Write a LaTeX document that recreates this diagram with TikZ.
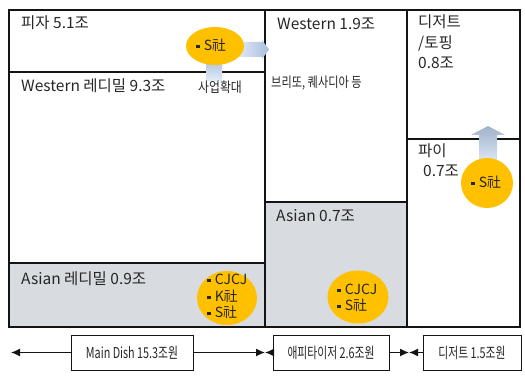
\documentclass[tikz,border=0pt]{standalone}
\usepackage{fontspec}
\setmainfont{Noto Sans CJK KR}
\usetikzlibrary{arrows.meta,shapes.geometric}
\definecolor{gfill}{RGB}{216,219,223}
\definecolor{orng}{RGB}{255,192,0}
\definecolor{ablA}{RGB}{168,190,222}
\definecolor{ablB}{RGB}{228,236,249}
\definecolor{lnc}{RGB}{20,20,20}
\newcommand{\bsq}{\rule[0.2em]{3.6pt}{3.6pt}\hspace{4pt}}
\tikzset{
  lbl/.style={anchor=base west, inner sep=0, font=\fontsize{15.5}{18}\selectfont, text=black!85},
  cond/.style={anchor=base west, inner sep=0, font=\fontsize{14}{16}\selectfont, text=black!85},
  blob/.style={ellipse, fill=orng, draw=none, inner sep=0},
  tag/.style={draw=lnc, line width=0.7pt, fill=white, inner sep=0, minimum height=35pt, font=\fontsize{15}{17}\selectfont, text=black!85},
  arr/.style={draw=lnc, line width=1.4pt, -{Latex[length=9pt,width=8pt]}},
  grid/.style={draw=lnc, line width=1.3pt}
}
\begin{document}
\begin{tikzpicture}[x=1pt,y=-1pt]
\useasboundingbox (0,0) rectangle (525,379);
% grey areas
\fill[gfill] (9,263) rectangle (265,327);
\fill[gfill] (265,202) rectangle (407,327);
% grid
\draw[grid] (9,10) rectangle (520,327);
\draw[grid] (265,10) -- (265,327);
\draw[grid] (407,10) -- (407,327);
\draw[grid] (9,72) -- (265,72);
\draw[grid] (9,263) -- (265,263);
\draw[grid] (265,202) -- (407,202);
\draw[grid] (407,139) -- (520,139);
% block arrows
\shade[left color=ablB, right color=ablA] (236,42) -- (262,42) -- (262,40) -- (269,49.5) -- (262,59) -- (262,57) -- (236,57) -- cycle;
\shade[top color=ablA, bottom color=ablB] (206,58) rectangle (222,81);
\shade[top color=ablA!80!gray, bottom color=ablB] (479,165) -- (479,135) -- (471,135) -- (488,126) -- (505,135) -- (497,135) -- (497,165) -- cycle;
% circles
\node[blob, minimum width=58pt, minimum height=38pt] (c1) at (215,46) {};
\node[blob, minimum width=60pt, minimum height=54pt] (c2) at (227,298) {};
\node[blob, minimum width=61pt, minimum height=53pt] (c3) at (358,297) {};
\node[blob, minimum width=52pt, minimum height=50pt] (c4) at (487,183) {};
% circle texts
\node[cond] (t1) at (196,51) {\bsq S社};
\node[cond] (t2a) at (207,285) {\bsq CJCJ};
\node[cond] (t2b) at (207,302) {\bsq K社};
\node[cond] (t2c) at (207,318) {\bsq S社};
\node[cond] (t3a) at (337,295) {\bsq CJCJ};
\node[cond] (t3b) at (337,311) {\bsq S社};
\node[cond] (t4) at (471,188) {\bsq S社};
% labels
\node[lbl] (l1) at (21,29) {피자 5.1조};
\node[lbl] (l2) at (21,92) {Western 레디밀 9.3조};
\node[lbl] (l3) at (21,285) {Asian 레디밀 0.9조};
\node[lbl] (l4) at (277,30) {Western 1.9조};
\node[lbl] (l5) at (276,222) {Asian 0.7조};
\node[lbl] (l6a) at (418,28) {디저트};
\node[lbl] (l6b) at (418,49) {/토핑};
\node[lbl] (l6c) at (418,69) {0.8조};
\node[lbl] (l7a) at (418,157) {파이};
\node[lbl] (l7b) at (423,177) {0.7조};
\node[cond, anchor=base] (l8) at (220,93) {\scalebox{0.85}[1]{사업확대}};
\node[cond] (l9) at (271,88) {\scalebox{0.8}[1]{브리또, 퀘사디아 등}};
% bottom tags
\node[tag, minimum width=122pt] (md) at (132,352.5) {\scalebox{0.72}[1]{Main Dish 15.3조원}};
\node[tag, minimum width=116pt] (ap) at (331,352.5) {\scalebox{0.72}[1]{애피타이저 2.6조원}};
\node[tag, minimum width=98pt] (ds) at (472,352.5) {\scalebox{0.72}[1]{디저트 1.5조원}};
\coordinate (e0) at (11,352.5);
\coordinate (e1) at (265,352.5);
\coordinate (e2) at (409,352.5);
\draw[arr] (md.west) -- (e0);
\draw[arr] (md.east) -- (e1);
\draw[arr] (ap.west) -- (e1);
\draw[arr] (ap.east) -- (e2);
\draw[arr] (ds.west) -- (e2);
\end{tikzpicture}
\end{document}
